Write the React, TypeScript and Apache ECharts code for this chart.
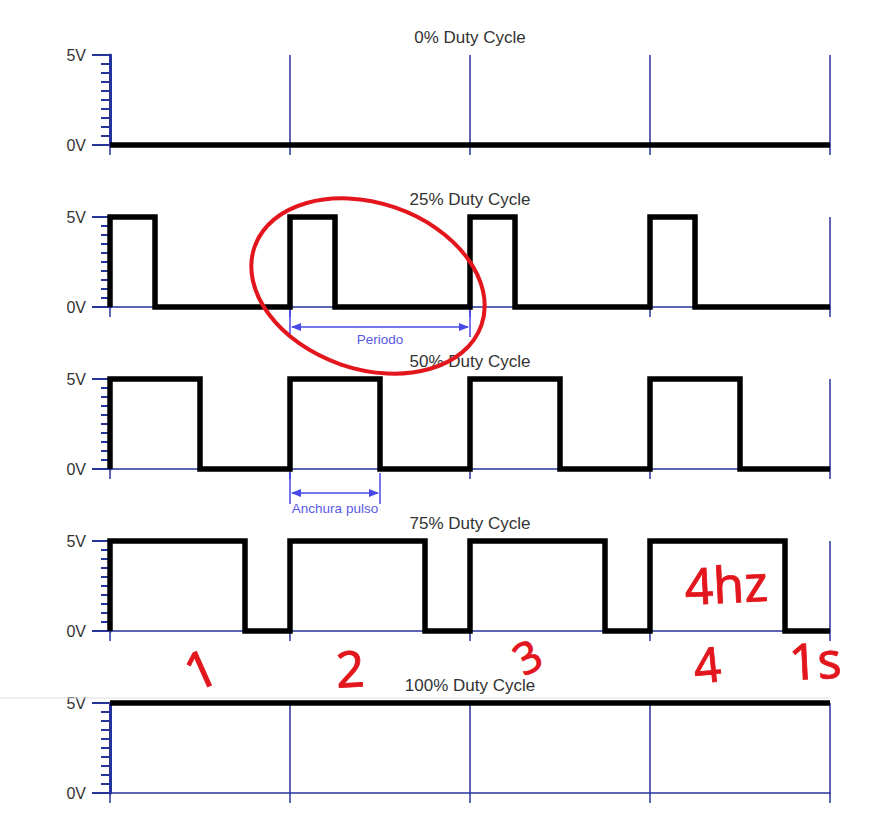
import React, { useEffect, useRef } from "react";
import * as echarts from "echarts";

// ---- data ----
const panelTitles = ["0% Duty Cycle", "25% Duty Cycle", "50% Duty Cycle", "75% Duty Cycle", "100% Duty Cycle"];
const voltMin = 0;
const voltMax = 5;
const timeMin = 0;
const timeMax = 4;

const duty0 = [[0, 0], [4, 0]];
const duty25 = [
  [0, 0], [0, 5], [0.25, 5], [0.25, 0], [1, 0], [1, 5], [1.25, 5], [1.25, 0],
  [2, 0], [2, 5], [2.25, 5], [2.25, 0], [3, 0], [3, 5], [3.25, 5], [3.25, 0], [4, 0],
];
const duty50 = [
  [0, 0], [0, 5], [0.5, 5], [0.5, 0], [1, 0], [1, 5], [1.5, 5], [1.5, 0],
  [2, 0], [2, 5], [2.5, 5], [2.5, 0], [3, 0], [3, 5], [3.5, 5], [3.5, 0], [4, 0],
];
const duty75 = [
  [0, 0], [0, 5], [0.75, 5], [0.75, 0], [1, 0], [1, 5], [1.75, 5], [1.75, 0],
  [2, 0], [2, 5], [2.75, 5], [2.75, 0], [3, 0], [3, 5], [3.75, 5], [3.75, 0], [4, 0],
];
const duty100 = [[0, 5], [4, 5]];
const waves = [duty0, duty25, duty50, duty75, duty100];

// annotation spans (time units)
const periodSpan = [1, 2]; // on 25% panel
const pulseSpan = [1, 1.5]; // on 50% panel
const periodLabel = "Periodo";
const pulseLabel = "Anchura pulso";

// handwritten notes
const redNotes = [
  { text: "1", x: 200, y: 668, size: 52, rot: 0.42 },
  { text: "2", x: 350, y: 668, size: 50, rot: 0.05 },
  { text: "3", x: 527, y: 656, size: 44, rot: 0.5 },
  { text: "4hz", x: 726, y: 584, size: 50, rot: 0.05 },
  { text: "4", x: 707, y: 664, size: 48, rot: 0.1 },
  { text: "1s", x: 815, y: 660, size: 50, rot: 0.05 },
];

const NAVY = "#26339a";
const BLUE = "#4848e8";
const RED = "#e2161c";
const FONT = "'Liberation Sans', Arial, sans-serif";

export default function App() {
  const ref = useRef<HTMLDivElement>(null);

  useEffect(() => {
    document.body.style.margin = "0";
    if (!ref.current) return;
    const chart = echarts.init(ref.current, null, { renderer: "svg" });

    const left = 110;
    const width = 720;
    const height = 90;
    const tops = [55, 217, 379, 541, 703];

    const grids = tops.map((t) => ({ left, top: t, width, height }));
    const titles = panelTitles.map((txt, i) => ({
      text: txt,
      left: left + width / 2,
      textAlign: "center",
      top: tops[i] - 26,
      padding: 0,
      textStyle: { fontSize: 17, fontWeight: "normal", color: "#333", fontFamily: FONT },
    }));
    const xAxes = tops.map((_, i) => ({
      type: "value",
      gridIndex: i,
      min: timeMin,
      max: timeMax,
      interval: 1,
      axisLine: { show: true, onZero: false, lineStyle: { color: NAVY, width: 1.5 } },
      axisTick: { show: true, length: 10, lineStyle: { color: NAVY, width: 1.5 } },
      axisLabel: { show: false },
      splitLine: { show: true, lineStyle: { color: NAVY, width: 1.5 } },
    }));
    const yAxes = tops.map((_, i) => ({
      type: "value",
      gridIndex: i,
      min: voltMin,
      max: voltMax,
      interval: 5,
      axisLine: { show: true, onZero: false, lineStyle: { color: NAVY, width: 3 } },
      axisTick: { show: true, length: 18, lineStyle: { color: NAVY, width: 2 } },
      minorTick: { show: true, splitNumber: 10, length: 9, lineStyle: { color: NAVY, width: 2 } },
      axisLabel: {
        formatter: (v: number) => `${v}V`,
        fontSize: 16,
        color: "#333",
        margin: 24,
        fontFamily: FONT,
      },
      splitLine: { show: false },
    }));
    const series = waves.map((d, i) => ({
      type: "line",
      xAxisIndex: i,
      yAxisIndex: i,
      data: d,
      symbol: "none",
      clip: false,
      lineStyle: { color: "#000", width: 5.5, join: "miter", cap: "butt" },
      z: 5,
    }));

    chart.setOption({
      animation: false,
      backgroundColor: "#fff",
      title: titles,
      grid: grids,
      xAxis: xAxes,
      yAxis: yAxes,
      series,
    });

    const px = (i: number, x: number, y: number) =>
      chart.convertToPixel({ xAxisIndex: i, yAxisIndex: i }, [x, y]) as number[];

    const bracket = (i: number, span: number[], label: string, barTop: number, barBot: number, arrowY: number, textY: number) => {
      const a = px(i, span[0], 0);
      const b = px(i, span[1], 0);
      const base = a[1];
      const x1 = a[0];
      const x2 = b[0];
      const ay = base + arrowY;
      return [
        { type: "line", shape: { x1, y1: base + barTop, x2: x1, y2: base + barBot }, style: { stroke: BLUE, lineWidth: 1.5 }, z: 10 },
        { type: "line", shape: { x1: x2, y1: base + barTop, x2, y2: base + barBot }, style: { stroke: BLUE, lineWidth: 1.5 }, z: 10 },
        { type: "line", shape: { x1: x1 + 2, y1: ay, x2: x2 - 2, y2: ay }, style: { stroke: BLUE, lineWidth: 1.3 }, z: 10 },
        { type: "polygon", shape: { points: [[x1 + 1, ay], [x1 + 11, ay - 4], [x1 + 11, ay + 4]] }, style: { fill: BLUE }, z: 10 },
        { type: "polygon", shape: { points: [[x2 - 1, ay], [x2 - 11, ay - 4], [x2 - 11, ay + 4]] }, style: { fill: BLUE }, z: 10 },
        {
          type: "text",
          x: (x1 + x2) / 2,
          y: base + textY,
          style: { text: label, fill: "#5a5ae6", fontSize: 13.5, fontFamily: FONT, align: "center", verticalAlign: "middle" },
          z: 10,
        },
      ];
    };

    const graphics: any[] = [
      { type: "line", shape: { x1: 0, y1: 698, x2: 830, y2: 698 }, style: { stroke: "#dedede", lineWidth: 1 }, z: 1 },
      ...bracket(1, periodSpan, periodLabel, 3, 30, 20, 32),
      ...bracket(2, pulseSpan, pulseLabel, 4, 35, 24, 39),
      {
        type: "ellipse",
        x: 368,
        y: 286,
        rotation: -0.33,
        shape: { cx: 0, cy: 0, rx: 120, ry: 83 },
        style: { fill: "none", stroke: RED, lineWidth: 4 },
        z: 20,
      },
      ...redNotes.map((n) => ({
        type: "text",
        x: n.x,
        y: n.y,
        rotation: n.rot,
        style: {
          text: n.text,
          fill: RED,
          stroke: RED,
          lineWidth: 0.8,
          fontSize: n.size,
          fontFamily: "'Noto Sans', sans-serif",
          align: "center",
          verticalAlign: "middle",
        },
        z: 20,
      })),
    ];

    chart.setOption({ graphic: graphics });

    return () => chart.dispose();
  }, []);

  return <div ref={ref} style={{ width: 870, height: 840 }} />;
}
